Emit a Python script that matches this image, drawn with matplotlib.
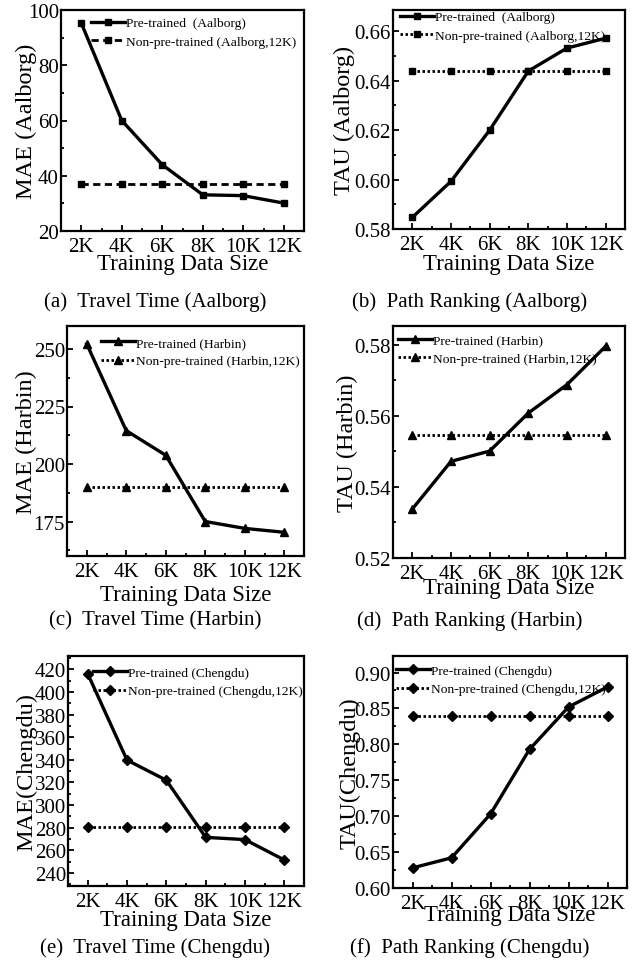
import matplotlib
matplotlib.use("Agg")
import matplotlib.pyplot as plt
from matplotlib.ticker import AutoMinorLocator, MultipleLocator, FormatStrFormatter

plt.rcParams['font.family'] = ['Liberation Serif', 'DejaVu Serif']

sizes = [2, 4, 6, 8, 10, 12]
size_labels = ['2K', '4K', '6K', '8K', '10K', '12K']

# travel time MAE
mae_aalborg = [95.3, 60.0, 44.0, 33.1, 32.8, 30.1]
mae_aalborg_base = 37.0
mae_harbin = [252.2, 214.5, 203.8, 175.0, 172.0, 170.3]
mae_harbin_base = 190.2
mae_chengdu = [416.2, 339.8, 322.0, 271.5, 269.5, 251.5]
mae_chengdu_base = 280.6

# path ranking TAU
tau_aalborg = [0.5847, 0.5993, 0.6200, 0.6439, 0.6532, 0.6572]
tau_aalborg_base = 0.6439
tau_harbin = [0.5338, 0.5472, 0.5501, 0.5608, 0.5688, 0.5796]
tau_harbin_base = 0.5545
tau_chengdu = [0.628, 0.642, 0.703, 0.793, 0.852, 0.880]
tau_chengdu_base = 0.839

W, H = 641, 978
fig = plt.figure(figsize=(W / 100, H / 100), dpi=100)


def box(l, t, r, b):
    return [l / W, 1 - b / H, (r - l) / W, (b - t) / H]


panels = [
    dict(y=mae_aalborg, base=mae_aalborg_base, m='s', ls='dash',
         lab1='Pre-trained  (Aalborg)', lab2='Non-pre-trained (Aalborg,12K)',
         ylabel='MAE (Aalborg)', ylim=(20, 100), step=20, fmt='%d',
         cap='(a)  Travel Time (Aalborg)', pos=box(61, 11, 304, 232),
         ylc=-0.10, xlc=-0.10, leg=(91, 33.5)),
    dict(y=tau_aalborg, base=tau_aalborg_base, m='s', ls='dot',
         lab1='Pre-trained  (Aalborg)', lab2='Non-pre-trained (Aalborg,12K)',
         ylabel='TAU (Aalborg)', ylim=(0.58, 0.6686), step=0.02, fmt='%.2f',
         cap='(b)  Path Ranking (Aalborg)', pos=box(393, 11, 625, 230),
         ylc=-0.165, xlc=-0.11, leg=(400, 27.5)),
    dict(y=mae_harbin, base=mae_harbin_base, m='^', ls='dot',
         lab1='Pre-trained (Harbin)', lab2='Non-pre-trained (Harbin,12K)',
         ylabel='MAE (Harbin)', ylim=(160, 260), step=25, fmt='%d',
         cap='(c)  Travel Time (Harbin)', pos=box(67, 327, 304, 557),
         ylc=-0.127, xlc=-0.12, leg=(101, 353)),
    dict(y=tau_harbin, base=tau_harbin_base, m='^', ls='dot',
         lab1='Pre-trained (Harbin)', lab2='Non-pre-trained (Harbin,12K)',
         ylabel='TAU (Harbin)', ylim=(0.52, 0.5853), step=0.02, fmt='%.2f',
         cap='(d)  Path Ranking (Harbin)', pos=box(393, 327, 625, 559),
         ylc=-0.151, xlc=-0.082, leg=(398, 350.5)),
    dict(y=mae_chengdu, base=mae_chengdu_base, m='D', ls='dot',
         lab1='Pre-trained (Chengdu)', lab2='Non-pre-trained (Chengdu,12K)',
         ylabel='MAE(Chengdu)', ylim=(228.5, 431.8), step=20, fmt='%d',
         cap='(e)  Travel Time (Chengdu)', pos=box(68, 657, 304, 887),
         ylc=-0.131, xlc=-0.10, leg=(93, 683)),
    dict(y=tau_chengdu, base=tau_chengdu_base, m='D', ls='dot',
         lab1='Pre-trained (Chengdu)', lab2='Non-pre-trained (Chengdu,12K)',
         ylabel='TAU(Chengdu)', ylim=(0.60, 0.923), step=0.05, fmt='%.2f',
         cap='(f)  Path Ranking (Chengdu)', pos=box(393, 657, 627, 889),
         ylc=-0.137, xlc=-0.07, leg=(396, 681)),
]

cap_y = [302, 302, 621, 621, 948, 948]
cap_x = [155, 470, 155, 470, 155, 470]

for i, p in enumerate(panels):
    ax = fig.add_axes(p['pos'])
    msz = 6 if p['m'] == '^' else 5
    ax.plot(sizes, p['y'], color='black', lw=2.4, marker=p['m'], ms=msz,
            label=p['lab1'])
    base = [p['base']] * len(sizes)
    # Aalborg travel time uses a dashed baseline, the rest are dotted
    dash = (2.6, 1.6) if p['ls'] == 'dash' else (0.9, 0.9)
    ax.plot(sizes, base, color='black', lw=2.0, dashes=dash,
            marker=p['m'], ms=msz, label=p['lab2'])

    ax.set_xlim(1, 13)
    ax.set_ylim(*p['ylim'])
    ax.set_xticks(sizes)
    ax.set_xticklabels(size_labels)
    ax.xaxis.set_minor_locator(AutoMinorLocator(2))
    ax.yaxis.set_major_locator(MultipleLocator(p['step']))
    ax.yaxis.set_minor_locator(AutoMinorLocator(2))
    ax.yaxis.set_major_formatter(FormatStrFormatter(p['fmt']))
    ax.tick_params(which='both', direction='in', width=1.3)
    ax.tick_params(which='major', length=4.5, labelsize=15)
    ax.tick_params(axis='y', which='major', pad=1.5)
    ax.tick_params(axis='x', which='major', pad=4)
    ax.tick_params(which='minor', length=2.5)
    for s in ax.spines.values():
        s.set_linewidth(1.6)

    ax.set_ylabel(p['ylabel'], fontsize=17.5)
    ax.yaxis.set_label_coords(p['ylc'], 0.5)
    ax.set_xlabel('Training Data Size', fontsize=16.5)
    ax.xaxis.set_label_coords(0.5, p['xlc'])

    l, b, w, h = p['pos']
    lx = (p['leg'][0] / W - l) / w
    ly = ((1 - p['leg'][1] / H) - b) / h
    ax.legend(loc='center left', bbox_to_anchor=(lx, ly), frameon=False,
              fontsize=9.7, borderpad=0, borderaxespad=0, handlelength=2.5,
              handletextpad=0.1, labelspacing=0.45)

    fig.text(cap_x[i] / W, 1 - cap_y[i] / H, p['cap'], ha='center', va='center',
             fontsize=15)

fig.savefig('out.png', dpi=100)
